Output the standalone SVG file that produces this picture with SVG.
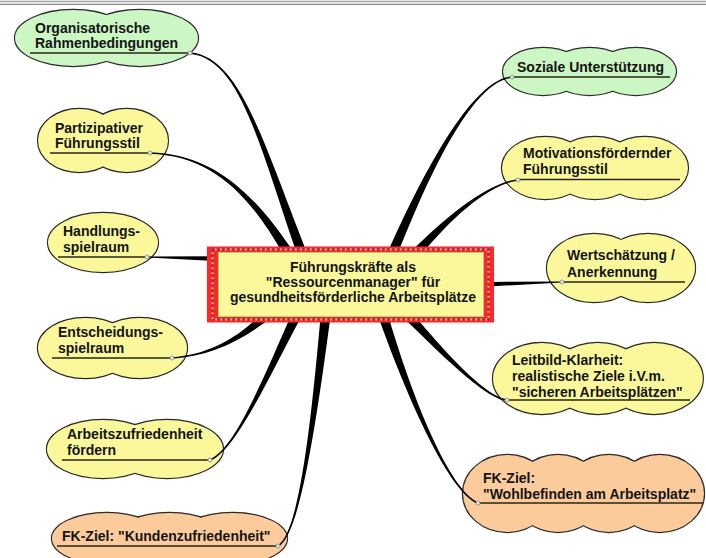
<svg xmlns="http://www.w3.org/2000/svg" xmlns:xlink="http://www.w3.org/1999/xlink" width="706" height="558" viewBox="0 0 706 558">
<style>
.t{font-family:"Liberation Sans",Arial,sans-serif;font-weight:bold;font-size:14px;fill:#141414}
.ol{stroke:#2b2b2b;stroke-width:2.3}
.g{fill:#ccf7c4}
.y{fill:#fbf89c}
.o{fill:#fccb9c}
.ul{stroke:#262616;stroke-width:1.5;fill:none}
.con{fill:#000}
.dot{fill:#e8e8e8;stroke:#888;stroke-width:0.8}
</style>
<defs>
<g id="c-org"><ellipse cx="73.1" cy="38" rx="58.1" ry="28"/><ellipse cx="139.9" cy="38" rx="58.1" ry="28"/></g>
<g id="c-par"><ellipse cx="79.3" cy="140.5" rx="41.3" ry="31.5"/><ellipse cx="126.7" cy="140.5" rx="41.3" ry="31.5"/></g>
<g id="c-han"><ellipse cx="103" cy="242.5" rx="55" ry="29.5"/></g>
<g id="c-ent"><ellipse cx="85.3" cy="348" rx="47.3" ry="30"/><ellipse cx="139.7" cy="348" rx="47.3" ry="30"/></g>
<g id="c-arb"><ellipse cx="102.9" cy="449" rx="55.9" ry="29"/><ellipse cx="167.1" cy="449" rx="55.9" ry="29"/></g>
<g id="c-kun"><ellipse cx="106.7" cy="538.5" rx="54.7" ry="25.5"/><ellipse cx="169.5" cy="538.5" rx="54.7" ry="25.5"/><ellipse cx="232.3" cy="538.5" rx="54.7" ry="25.5"/></g>
<g id="c-soz"><ellipse cx="543.2" cy="71.5" rx="40.2" ry="23.5"/><ellipse cx="589.5" cy="71.5" rx="40.2" ry="23.5"/><ellipse cx="635.8" cy="71.5" rx="40.2" ry="23.5"/></g>
<g id="c-mot"><ellipse cx="545.3" cy="168" rx="43.3" ry="31"/><ellipse cx="595" cy="168" rx="43.3" ry="31"/><ellipse cx="644.7" cy="168" rx="43.3" ry="31"/></g>
<g id="c-wer"><ellipse cx="594" cy="268" rx="47" ry="34"/><ellipse cx="648" cy="268" rx="47" ry="34"/></g>
<g id="c-lei"><ellipse cx="541.8" cy="378.5" rx="48.8" ry="35.5"/><ellipse cx="597.9" cy="378.5" rx="48.8" ry="35.5"/><ellipse cx="654" cy="378.5" rx="48.8" ry="35.5"/></g>
<g id="c-woh"><ellipse cx="507.2" cy="493.5" rx="44.2" ry="38.5"/><ellipse cx="558" cy="493.5" rx="44.2" ry="38.5"/><ellipse cx="608.8" cy="493.5" rx="44.2" ry="38.5"/><ellipse cx="659.8" cy="493.5" rx="44.2" ry="38.5"/></g>
</defs>
<rect width="706" height="558" fill="#fff"/>
<g id="frame">
<rect x="0" y="0" width="706" height="5" fill="#e4e4e4"/>
<line x1="0" y1="1.5" x2="706" y2="1.5" stroke="#a8a8a8" stroke-width="1"/>
<line x1="0" y1="4.5" x2="706" y2="4.5" stroke="#8a8a8a" stroke-width="1"/>
</g>

<g id="n-org">
<use xlink:href="#c-org" class="ol g"/><use xlink:href="#c-org" class="g"/>
<text class="t" x="35" y="32.5">Organisatorische</text>
<text class="t" x="35" y="48">Rahmenbedingungen</text>
<line class="ul" x1="30" y1="53" x2="190" y2="53"/>
</g>
<g id="n-par">
<use xlink:href="#c-par" class="ol y"/><use xlink:href="#c-par" class="y"/>
<text class="t" x="55" y="133">Partizipativer</text>
<text class="t" x="55" y="148">Führungsstil</text>
<line class="ul" x1="50" y1="153" x2="150" y2="153"/>
</g>
<g id="n-han">
<use xlink:href="#c-han" class="ol y"/><use xlink:href="#c-han" class="y"/>
<text class="t" x="63" y="236">Handlungs-</text>
<text class="t" x="63" y="252">spielraum</text>
<line class="ul" x1="58" y1="257" x2="147" y2="257"/>
</g>
<g id="n-ent">
<use xlink:href="#c-ent" class="ol y"/><use xlink:href="#c-ent" class="y"/>
<text class="t" x="58" y="337">Entscheidungs-</text>
<text class="t" x="58" y="353">spielraum</text>
<line class="ul" x1="52" y1="358" x2="172" y2="358"/>
</g>
<g id="n-arb">
<use xlink:href="#c-arb" class="ol y"/><use xlink:href="#c-arb" class="y"/>
<text class="t" x="67" y="439">Arbeitszufriedenheit</text>
<text class="t" x="67" y="455">fördern</text>
<line class="ul" x1="62" y1="460" x2="210" y2="460"/>
</g>
<g id="n-kun">
<use xlink:href="#c-kun" class="ol o"/><use xlink:href="#c-kun" class="o"/>
<text class="t" x="62" y="541">FK-Ziel: "Kundenzufriedenheit"</text>
<line class="ul" x1="57" y1="546" x2="278" y2="546"/>
</g>
<g id="n-soz">
<use xlink:href="#c-soz" class="ol g"/><use xlink:href="#c-soz" class="g"/>
<text class="t" x="517" y="72">Soziale Unterstützung</text>
<line class="ul" x1="512" y1="77" x2="670" y2="77"/>
</g>
<g id="n-mot">
<use xlink:href="#c-mot" class="ol y"/><use xlink:href="#c-mot" class="y"/>
<text class="t" x="523" y="158">Motivationsfördernder</text>
<text class="t" x="523" y="174">Führungsstil</text>
<line class="ul" x1="518" y1="179.5" x2="680" y2="179.5"/>
</g>
<g id="n-wer">
<use xlink:href="#c-wer" class="ol y"/><use xlink:href="#c-wer" class="y"/>
<text class="t" x="567" y="260">Wertschätzung /</text>
<text class="t" x="567" y="276.5">Anerkennung</text>
<line class="ul" x1="562" y1="282" x2="685" y2="282"/>
</g>
<g id="n-lei">
<use xlink:href="#c-lei" class="ol y"/><use xlink:href="#c-lei" class="y"/>
<text class="t" x="512" y="365">Leitbild-Klarheit:</text>
<text class="t" x="512" y="381">realistische Ziele i.V.m.</text>
<text class="t" x="512" y="396.5">"sicheren Arbeitsplätzen"</text>
<line class="ul" x1="507" y1="400" x2="690" y2="400"/>
</g>
<g id="n-woh">
<use xlink:href="#c-woh" class="ol o"/><use xlink:href="#c-woh" class="o"/>
<text class="t" x="483" y="483">FK-Ziel:</text>
<text class="t" x="483" y="498.5">"Wohlbefinden am Arbeitsplatz"</text>
<line class="ul" x1="478" y1="503" x2="703" y2="503"/>
</g>

<g id="connectors">
<path class="con" d="M189.9,53.7 C239.9,58.9 257.9,140.8 298.3,257.7 L307.7,254.3 C262.1,139.2 240.1,57.1 190.1,52.3 Z"/>
<path class="con" d="M150,153.7 C210,155.9 248.1,191.1 285.7,258.6 L294.3,253.4 C251.9,188.9 210,154.1 150,152.3 Z"/>
<path class="con" d="M147,256.4 L215,256.2 L215,261 L147,257.6 Z"/>
<path class="con" d="M172.1,358.7 C210.1,355.9 241.5,341.6 273.4,315.7 L266.6,308.3 C238.5,338.4 209.9,354.1 171.9,357.3 Z"/>
<path class="con" d="M210.3,460.7 C235.3,450.8 267,381 302.5,314.2 L293.5,309.8 C263,379 234.7,449.2 209.7,459.3 Z"/>
<path class="con" d="M278.4,546.7 C298.4,535.8 314.2,440.2 331,312.5 L321,311.5 C309.8,439.8 297.6,534.2 277.6,545.3 Z"/>
<path class="con" d="M511.9,76.3 C479.9,79.1 438,139.2 387.4,253.1 L396.6,256.9 C442,140.8 480.1,80.9 512.1,77.7 Z"/>
<path class="con" d="M517.9,179.3 C489.9,182.1 448.3,213.6 410.2,252.7 L417.8,259.3 C451.7,216.4 490.1,183.9 518.1,180.7 Z"/>
<path class="con" d="M562,281.4 L488,282 L488,286.5 L562,282.6 Z"/>
<path class="con" d="M507.1,399.3 C485.1,397.1 441.6,348.5 408.7,308.6 L401.3,315.4 C438.4,351.5 484.9,398.9 506.9,400.7 Z"/>
<path class="con" d="M478.3,502.3 C450.3,491.2 412.1,399.3 386.8,310.5 L377.2,313.5 C407.9,400.7 449.7,492.8 477.7,503.7 Z"/>
<circle class="dot" cx="190" cy="53" r="2"/>
<circle class="dot" cx="150" cy="153" r="2"/>
<circle class="dot" cx="147" cy="257" r="2"/>
<circle class="dot" cx="172" cy="358" r="2"/>
<circle class="dot" cx="210" cy="460" r="2"/>
<circle class="dot" cx="278" cy="546" r="2"/>
<circle class="dot" cx="512" cy="77" r="2"/>
<circle class="dot" cx="518" cy="180" r="2"/>
<circle class="dot" cx="562" cy="282" r="2"/>
<circle class="dot" cx="507" cy="400" r="2"/>
<circle class="dot" cx="478" cy="503" r="2"/>
</g>

<g id="n-center">
<rect x="207" y="246.5" width="287" height="76" fill="#ff2626"/>
<rect x="212.5" y="249.5" width="276" height="70" fill="none" stroke="#4040c0" stroke-width="2" stroke-dasharray="1.6 3.4"/>
<rect x="212.5" y="249.5" width="276" height="70" fill="none" stroke="#ffd040" stroke-width="2" stroke-dasharray="1.6 3.4" stroke-dashoffset="2.5"/>
<rect x="218.5" y="252.5" width="265" height="64" fill="#fbf89c" stroke="#a8d070" stroke-width="1"/>
<text class="t" x="353" y="272" text-anchor="middle">Führungskräfte als</text>
<text class="t" x="353" y="287" text-anchor="middle">"Ressourcenmanager" für</text>
<text class="t" x="353" y="302" text-anchor="middle">gesundheitsförderliche Arbeitsplätze</text>
</g>
</svg>
